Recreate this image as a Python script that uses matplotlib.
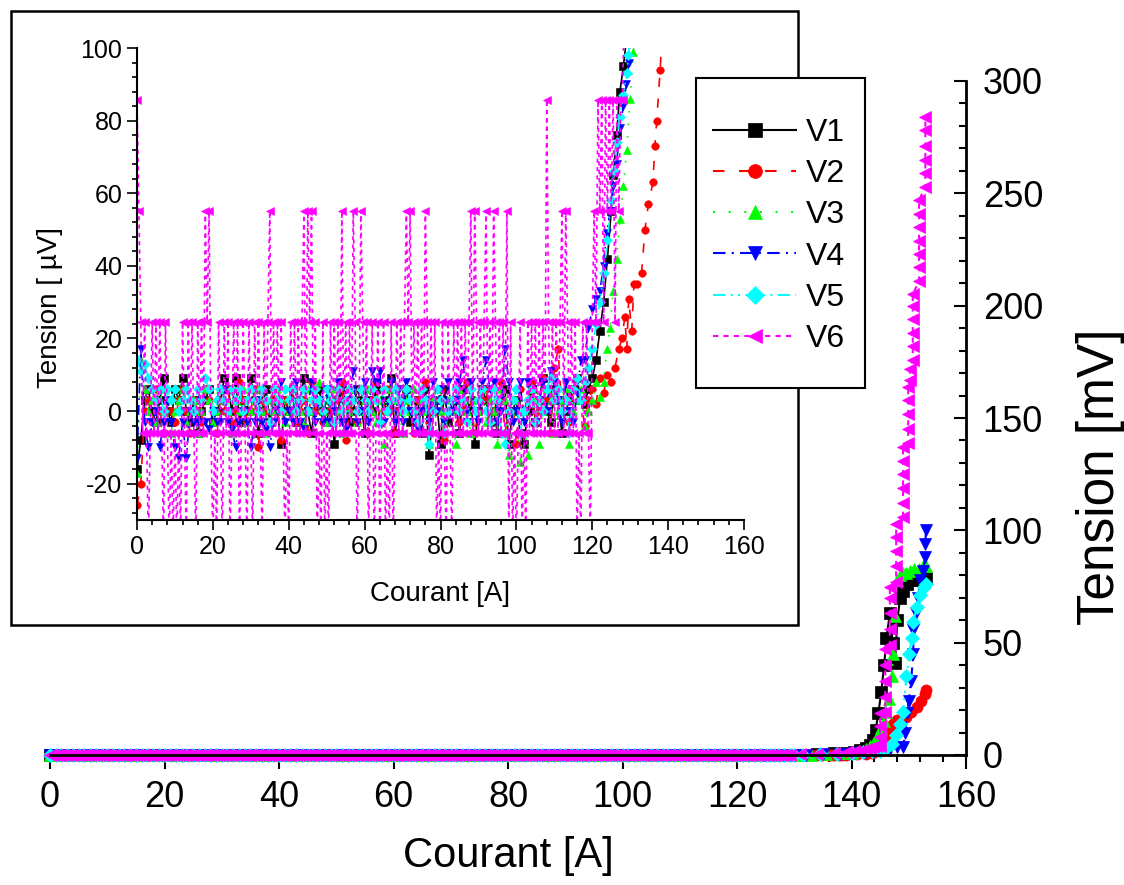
import numpy as np
import matplotlib.pyplot as plt
from matplotlib.patches import Rectangle
from matplotlib.ticker import MultipleLocator

plt.rcParams["font.family"] = ["Liberation Sans", "DejaVu Sans"]
plt.rcParams["axes.unicode_minus"] = False

# quantised levels of channel V6 (uV)
L6, H6, S6, T6, D6 = -6.0, 24.6, 55.2, 85.8, -36.4

# low current noise, uV, one sample per ampere from 0 A
V1_LOW = [-16, -8, 3, 6, 0, -3, 3, 9, 0, -3, 6, 3, 9, 0, -3, 3, -6, 0, 3, 6,
          -3, 0, 3, 9, 6, 0, 9, -3, 3, 0, 9, 3, -6, 0, 6, -3, 3, 0, -9, 3,
          0, 6, -3, 3, 9, 0, -6, 3, 6, 0, -3, 3, -9, 0, 6, 3, -3, 0, 6, 3,
          -6, 3, 0, 6, -3, 3, 0, 9, -6, 0, 3, 6, -3, 0, 3, -6, 6, -12, 0, 3,
          -9, 6, -3, 0, 3, -6, 6, 0, 3, -9, 0, 6, 3, -3, 0, -6, 3, 6, -9, 0,
          3, -6, -9, 0, 6, -3, 3, 9, 0, -3, 6, 3, -6, 0, 3, 6, 9, 3]
V2_LOW = [-26, -20, 0, 3, -3, 6, 0, -6, 3, 0, -3, 3, 6, 0, -6, 3, 0, -3, 6, 3,
          0, -6, 3, 0, 6, -3, 0, 8, 3, -3, 0, 6, -10, 3, 0, -3, 6, 0, -8, 3,
          0, 6, -3, 0, 3, -6, 8, 0, 3, -3, 6, 0, -3, 3, 8, -8, 0, 3, -3, 6,
          0, -6, 3, 8, -3, 0, 6, 3, -6, 0, 3, 6, 0, -6, 3, 0, 8, -3, 3, 0,
          6, -8, 0, 3, 6, -3, 0, 8, 3, -6, 0, 3, 6, -3, 0, 3, 8, -6, 0, 3,
          -9, 6, 0, 3, 8, -3, 0, 9, 3, -6, 12, 17, 0, 3, -3, 6, 9, 3]
V3_LOW = [-17, 14, 6, 0, 3, -3, 6, 0, 3, -6, 0, 3, 6, -3, 0, 3, -6, 0, 6, 3,
          -3, 0, 6, 3, 0, -6, 3, 0, 6, -3, 0, 3, 6, 0, -6, 3, 0, 6, 3, -3,
          0, 6, 3, 0, -3, 6, 0, 3, 8, 0, -3, 3, 6, 0, -6, 3, 0, 6, -3, 0,
          3, 6, 0, -3, 3, -9, 0, 6, 3, 0, -6, 3, 0, 6, -3, 3, 0, -9, 3, 6,
          0, -3, 3, 0, -9, 6, 3, 0, -6, 3, 0, 6, -3, 3, 0, -9, 6, 3, -12, 0,
          3, -14, 0, -12, 6, 3, -9, 0, 6, 3, -6, 0, 3, 6, -9, 0, 3, 6]
V4_LOW = [-13, 17, -3, -10, -3, 0, -10, -3, 3, -3, -10, -13, -3, -13, 0, -3, -3, 3, -3, -5,
          0, -3, -3, 6, -3, -5, -10, -3, 0, -3, -10, -3, 3, -3, -5, -10, -3, 0, 8, -3,
          0, -3, 8, -3, -5, 0, 8, -3, 3, -3, 6, -3, 0, 8, -3, -5, 3, 11, -3, 0,
          8, -3, 11, 8, 11, -3, 0, 8, -3, 6, -3, 8, 0, -3, -5, 0, 3, -3, 8, 0,
          6, -3, 8, 0, 3, 8, 14, -3, 8, 0, -3, 8, 14, 6, 8, -3, 0, 17, 8, -3,
          0, 8, -3, 8, 6, -3, 3, 8, 0, 11, 8, 3, -3, 8, 0, -3, 5, 14]
V5_LOW = [14, 11, 13, 9, 6, 3, 6, 0, 6, 3, 6, 0, 3, 6, 3, 0, 6, 3, 9, 6,
          0, 3, 6, 3, 0, 6, 3, 6, 0, 3, 6, 3, 0, 6, 3, -3, 6, 3, 0, 6,
          3, 6, 0, 3, 6, 0, 3, 6, 3, 0, 6, 3, -3, 6, 0, 3, 6, 3, 0, 6,
          3, 0, 6, 3, -3, 6, 0, 3, 6, 3, 0, 6, 3, 0, -3, 6, 3, -9, 0, 6,
          3, -6, 0, 3, 6, 0, 3, -3, 6, 0, 3, 6, 0, -3, 6, 3, -6, -9, 0, 3,
          6, -6, 0, 3, 6, -3, 3, 0, 6, 9, 3, 6, 0, 3, -6, 6, 9, 3]
# V6 is sampled every 0.5 A
V6_LOW = [T6, S6, H6, L6, H6, L6, D6, L6, H6, L6, H6, L6, H6, L6, D6, H6, L6, D6, L6, D6,
          L6, D6, L6, D6, H6, L6, D6, H6, L6, H6, L6, D6, H6, L6, H6, L6, S6, H6, S6, L6,
          D6, L6, D6, H6, L6, D6, H6, L6, H6, D6, L6, H6, L6, H6, D6, L6, H6, L6, D6, H6,
          L6, D6, H6, L6, H6, L6, D6, H6, L6, H6, S6, L6, H6, L6, H6, L6, H6, L6, D6, L6,
          D6, H6, L6, H6, L6, H6, L6, H6, S6, L6, S6, H6, S6, L6, H6, D6, L6, D6, H6, D6,
          L6, D6, H6, L6, H6, L6, H6, L6, S6, L6, H6, L6, H6, L6, S6, H6, D6, L6, S6, H6,
          L6, H6, D6, L6, H6, D6, L6, H6, D6, L6, H6, D6, L6, D6, H6, D6, L6, H6, L6, H6,
          L6, H6, S6, H6, S6, L6, H6, L6, H6, L6, H6, L6, S6, H6, L6, H6, L6, H6, D6, L6,
          D6, H6, L6, D6, H6, L6, D6, H6, L6, H6, L6, H6, L6, H6, L6, H6, S6, L6, S6, H6,
          L6, H6, L6, H6, S6, L6, H6, L6, S6, H6, L6, H6, L6, H6, L6, S6, D6, H6, D6, L6,
          D6, L6, H6, D6, L6, D6, H6, L6, H6, L6, H6, L6, H6, L6, H6, L6, T6, H6, L6, H6,
          L6, H6, L6, H6, S6, L6, S6, H6, L6, H6, L6, H6, D6, L6, D6, H6]

# onset of the transition, (A, uV)
V1_RISE = [(118, 2), (119, 6), (120, 9), (121, 14), (122, 22), (123, 30), (124, 42),
           (125, 55), (125.6, 65), (126.4, 76), (127.3, 88), (128.2, 95), (129.1, 103)]
V2_RISE = [(118, -4), (119, 3), (120, 6), (121, 2), (122, 9), (123, 5), (124, 10), (125, 8),
           (126, 12), (127, 17), (127.8, 20), (128.6, 26), (129.1, 17), (129.6, 31), (130.4, 22),
           (131, 35), (131.7, 35), (133, 38), (133.9, 50), (134.8, 57), (136, 63), (136.5, 73),
           (137, 80), (137.9, 94), (138.4, 104)]
V3_RISE = [(118, -4), (119, 0), (120, 3), (121, 8), (122, 4), (123, 8), (123.8, 17), (124.7, 23),
           (125.5, 33), (126.4, 42), (127.3, 53), (128.2, 62), (129.1, 72), (130.0, 86),
           (130.8, 99), (131.4, 106)]
V4_RISE = [(118, 14), (119, 23), (120, 28), (121, 31), (122, 33), (123, 40), (123.8, 49),
           (124.7, 55), (125.6, 62), (126.4, 68), (127.3, 78), (128.2, 84), (129.0, 90),
           (129.6, 96), (130.2, 104)]
V5_RISE = [(118, 8), (119, 12), (120, 17), (121, 24), (122, 30), (123, 38), (124, 47), (125, 58),
           (125.7, 66), (126.4, 74), (127.3, 81), (128.2, 87), (129.1, 93), (129.5, 98), (130.0, 104)]
V6_RISE = [(118, L6), (118.5, H6), (119, L6), (119.5, D6), (120, H6), (120.5, S6), (121, H6),
           (121.5, T6), (122, S6), (122.5, T6), (123, H6), (123.5, T6), (124, S6), (124.5, T6),
           (125, S6), (125.5, T6), (126, H6), (126.5, T6), (127, S6), (127.5, T6), (128, T6),
           (128.5, 117), (129.3, 140)]

# quench, (A, mV)
V1_HIGH = [(131, 0.2), (134, 0.4), (137, 0.7), (139, 1.0), (140.5, 1.5), (141.5, 2.2), (142.5, 3.0),
           (143.3, 4.5), (143.8, 6.7), (144.2, 11), (144.7, 18.7), (145.2, 28), (145.7, 40),
           (146.1, 52), (146.7, 63), (147.2, 50), (147.6, 41), (148.0, 60), (148.5, 70), (149.0, 73),
           (149.7, 76), (150.5, 78), (151.3, 78), (152.2, 79), (153.1, 79)]
V2_HIGH = [(139, 0.15), (141, 0.3), (142.5, 0.6), (143.5, 1.0), (144.5, 2.0), (145.3, 4.0),
           (146.1, 8.0), (146.7, 11), (147.3, 14), (148.0, 15.5), (148.8, 16.5), (149.6, 17),
           (150.4, 19), (151.4, 21.5), (152.2, 24), (152.8, 27), (153.1, 29)]
V3_HIGH = [(133, 0.2), (135.5, 0.4), (138, 0.7), (140, 1.0), (141.5, 1.8), (142.5, 2.8), (143.3, 4.0),
           (144.0, 6.0), (144.6, 9.0), (145.2, 12), (145.7, 15), (146.1, 19), (146.5, 25), (147.0, 35),
           (147.3, 45), (147.6, 62), (147.9, 78), (148.4, 80), (149.0, 81), (149.6, 81), (150.3, 82),
           (151.0, 83), (151.8, 83), (152.5, 84), (153.1, 84)]
V4_HIGH = [(132, 0.2), (135, 0.4), (138, 0.6), (140.5, 0.9), (142.5, 1.2), (144.0, 1.6), (145.5, 2.2),
           (146.8, 2.8), (148.0, 3.4), (149.0, 3.7), (149.4, 10), (149.7, 18.7), (150.0, 24),
           (150.4, 33), (150.8, 45), (150.8, 55.6), (151.3, 63), (151.7, 70), (152.0, 78),
           (152.5, 82), (152.9, 88), (152.9, 94), (153.0, 100)]
V5_HIGH = [(131.5, 0.2), (134.5, 0.4), (137.5, 0.6), (140, 0.9), (142, 1.2), (143.5, 1.6),
           (145.0, 2.0), (146.0, 3.0), (147.0, 5.0), (147.8, 9), (148.4, 14), (149.0, 19),
           (149.6, 35), (150.1, 45), (150.5, 52), (150.8, 59), (151.4, 66), (152.0, 71),
           (152.6, 75), (153.1, 76)]
V6_HIGH = [(131, 0.3), (134, 0.6), (137, 0.9), (139, 1.2), (140.5, 1.6), (141.5, 2.0), (142.5, 2.5),
           (143.2, 3.0), (143.8, 3.5), (144.3, 3.8), (145.0, 4.0), (145.0, 8), (145.0, 13), (145.0, 18.7),
           (145.9, 19), (145.9, 26), (145.9, 33), (145.9, 40), (145.9, 47),
           (146.7, 49), (146.7, 56), (146.7, 63), (146.7, 70), (146.7, 75),
           (147.8, 77), (147.8, 84), (147.8, 91), (147.8, 97), (147.8, 103),
           (149.0, 106), (149.0, 112), (149.0, 119), (149.0, 125), (149.0, 131), (149.0, 137),
           (149.9, 139), (149.9, 145), (149.9, 152), (149.9, 158), (149.9, 164),
           (150.2, 167), (150.2, 172),
           (150.7, 176), (150.7, 182), (150.7, 188), (150.7, 194), (150.7, 200), (150.7, 205),
           (151.8, 211), (151.8, 217), (151.8, 223), (151.8, 229), (151.8, 235), (151.8, 241), (151.8, 247),
           (152.9, 253), (152.9, 259), (152.9, 265), (152.9, 271), (152.9, 278), (152.9, 284)]

NAMES = ["V1", "V2", "V3", "V4", "V5", "V6"]
LOWS = [V1_LOW, V2_LOW, V3_LOW, V4_LOW, V5_LOW, V6_LOW]
STEPS = [1.0, 1.0, 1.0, 1.0, 1.0, 0.5]
RISES = [V1_RISE, V2_RISE, V3_RISE, V4_RISE, V5_RISE, V6_RISE]
HIGHS = [V1_HIGH, V2_HIGH, V3_HIGH, V4_HIGH, V5_HIGH, V6_HIGH]

COLORS = ["#000000", "#ff0000", "#00ff00", "#0000ff", "#00ffff", "#ff00ff"]
STYLES = ["-", (0, (5.5, 7)), (0, (1, 6.5)), (0, (6, 3, 1, 3)), (0, (6, 2.5, 1, 2.5, 1, 2.5)), (0, (2.5, 2.5))]
MARKERS = ["s", "o", "^", "v", "D", "<"]


def build(low, step, rise, high):
    cur = np.concatenate([np.arange(len(low)) * step, [p[0] for p in rise], [p[0] for p in high]])
    mv = np.concatenate([np.array(low) / 1000.0, [p[1] / 1000.0 for p in rise], [p[1] for p in high]])
    return cur, mv


def main():
    W, H = 1124, 885
    fig = plt.figure(figsize=(W / 100, H / 100), dpi=100)

    ax = fig.add_axes([50 / W, 1 - 755 / H, 916 / W, 674 / H])
    ins = fig.add_axes([137 / W, 1 - 520 / H, 607 / W, 472 / H])
    ins.set_zorder(3)

    lines = []
    for k in range(6):
        cur, mv = build(LOWS[k], STEPS[k], RISES[k], HIGHS[k])
        ms = 8 if MARKERS[k] != "D" else 7
        (ln,) = ax.plot(cur, mv, color=COLORS[k], ls=STYLES[k], lw=1.5, marker=MARKERS[k],
                        ms=ms, mec=COLORS[k], mew=0.5, label=NAMES[k], clip_on=False)
        lines.append(ln)
        ins.plot(cur, mv * 1000, color=COLORS[k], ls=STYLES[k], lw=1.2, marker=MARKERS[k],
                 ms=ms * 0.68, mec=COLORS[k], mew=0.4)

    # main axes: only bottom and right axis lines
    ax.set_xlim(0, 160)
    ax.set_ylim(0, 300)
    ax.spines["top"].set_visible(False)
    ax.spines["left"].set_visible(False)
    ax.spines["bottom"].set_linewidth(2)
    ax.spines["right"].set_linewidth(2)
    ax.xaxis.set_major_locator(MultipleLocator(20))
    ax.xaxis.set_minor_locator(MultipleLocator(4))
    ax.yaxis.set_major_locator(MultipleLocator(50))
    ax.yaxis.set_minor_locator(MultipleLocator(10))
    ax.tick_params(axis="x", which="major", direction="out", length=10, width=1.5, labelsize=26, pad=8)
    ax.tick_params(axis="x", which="minor", direction="out", length=5, width=1.5)
    ax.tick_params(axis="y", which="both", left=False, right=True, labelleft=False, labelright=True,
                   direction="in", width=1.5)
    ax.tick_params(axis="y", which="major", length=9, labelsize=26, pad=12)
    ax.tick_params(axis="y", which="minor", length=5)
    ax.set_xlabel("Courant [A]", fontsize=30)
    ax.xaxis.set_label_coords(0.5, -0.12)
    ax.yaxis.set_label_position("right")
    ax.set_ylabel("Tension [mV]", fontsize=37)
    ax.yaxis.set_label_coords(1.12, 0.413)

    # inset frame
    fig.add_artist(Rectangle((11 / W, 1 - 625 / H), 787 / W, 614 / H, transform=fig.transFigure,
                             facecolor="white", edgecolor="black", lw=1.8, zorder=2))

    ins.set_xlim(0, 160)
    ins.set_ylim(-30, 100)
    ins.spines["top"].set_visible(False)
    ins.spines["right"].set_visible(False)
    ins.spines["bottom"].set_linewidth(1.5)
    ins.spines["left"].set_linewidth(1.5)
    ins.xaxis.set_major_locator(MultipleLocator(20))
    ins.xaxis.set_minor_locator(MultipleLocator(4))
    ins.yaxis.set_major_locator(MultipleLocator(20))
    ins.yaxis.set_minor_locator(MultipleLocator(4))
    ins.tick_params(which="both", direction="out", width=1.2, labelsize=18)
    ins.tick_params(which="major", length=7)
    ins.tick_params(which="minor", length=3.5)
    ins.set_xlabel("Courant [A]", fontsize=20)
    ins.xaxis.set_label_coords(0.5, -0.13)
    ins.set_ylabel("Tension [ \u00b5V]", fontsize=20)
    ins.yaxis.set_label_coords(-0.122, 0.451)

    # legend box drawn separately, entries placed inside it
    fig.add_artist(Rectangle((696 / W, 1 - 388 / H), 169 / W, 310 / H, transform=fig.transFigure,
                             facecolor="white", edgecolor="black", lw=1.5, zorder=5))
    leg = fig.legend(handles=lines, labels=NAMES, loc="upper left", bbox_to_anchor=(713 / W, 1 - 118 / H),
                     bbox_transform=fig.transFigure, fontsize=23, frameon=False, borderpad=0,
                     labelspacing=0.35, handlelength=2.6, handletextpad=0.3, borderaxespad=0,
                     markerscale=1.25, numpoints=1)
    leg.set_zorder(6)

    fig.savefig("out.png", dpi=100)
    plt.close(fig)


if __name__ == "__main__":
    main()
